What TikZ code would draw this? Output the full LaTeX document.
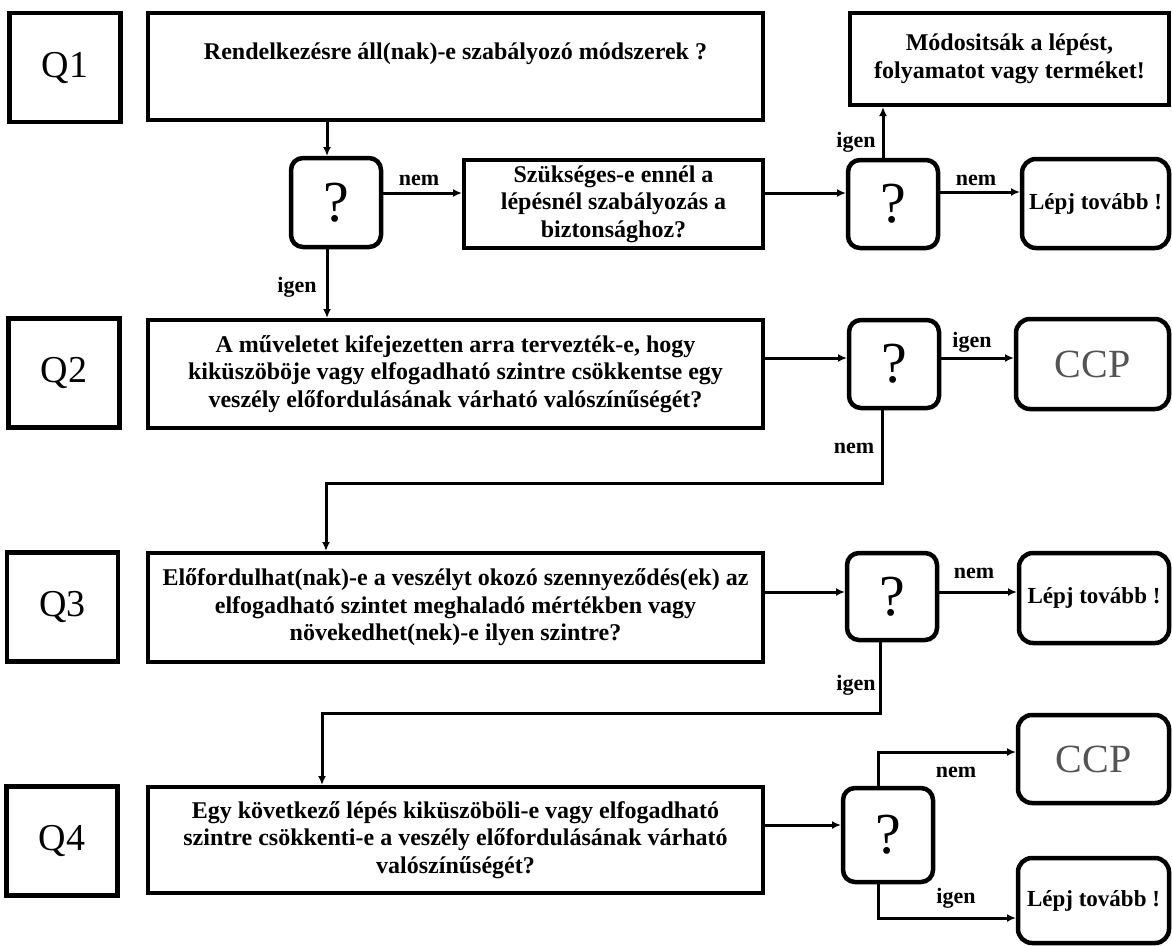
\documentclass[tikz,border=0pt]{standalone}
\usepackage{fontspec}
\setmainfont{Liberation Serif}
\usetikzlibrary{arrows.meta}
\definecolor{ccpgray}{rgb}{0.33,0.33,0.33}
\begin{document}
\begin{tikzpicture}[x=1pt,y=-1pt,
  every node/.style={inner sep=0pt, outer sep=0pt},
  qlab/.style={draw, line width=4.5pt, minimum width=111pt, minimum height=109pt,
    font=\fontsize{38}{42}\selectfont},
  mainbox/.style={draw, line width=4.5pt, minimum width=615pt, align=center,
    font=\bfseries\fontsize{24}{27.5}\selectfont},
  sidebox/.style={draw, line width=4.5pt, align=center,
    font=\bfseries\fontsize{24}{27.5}\selectfont},
  decbox/.style={draw, line width=4.5pt, rounded corners=12pt, minimum width=90pt,
    minimum height=88pt, font=\fontsize{58}{60}\selectfont},
  endbox/.style={draw, line width=4.5pt, rounded corners=14pt, align=center,
    font=\bfseries\fontsize{23}{27}\selectfont},
  ccpbox/.style={draw, line width=4.5pt, rounded corners=14pt,
    font=\fontsize{40}{44}\selectfont, text=ccpgray},
  arr/.style={line width=3pt, -{Latex[length=9pt,width=8pt]}, shorten >=2pt},
  lbl/.style={font=\bfseries\fontsize{22}{24}\selectfont}
]
\fill[white] (0,0) rectangle (1172,945);
\useasboundingbox (0,0) rectangle (1172,945);

% question labels
\node[qlab] (q1l) at (65,67.5) {Q1};
\node[qlab] (q2l) at (64,373) {Q2};
\node[qlab] (q3l) at (62.5,607) {Q3};
\node[qlab] (q4l) at (62,841) {Q4};

% main question boxes
\node[mainbox, minimum height=107pt, text height=17pt, text depth=31pt] (q1m) at (455.5,66.5)
  {Rendelkezésre áll(nak)-e szabályozó módszerek ?};
\node[mainbox, minimum height=108pt] (q2m) at (455.5,374)
  {A műveletet kifejezetten arra tervezték-e, hogy\\kiküszöböje vagy elfogadható szintre csökkentse egy\\veszély előfordulásának várható valószínűségét?};
\node[mainbox, minimum height=109pt] (q3m) at (455.5,607.5)
  {Előfordulhat(nak)-e a veszélyt okozó szennyeződés(ek) az\\elfogadható szintet meghaladó mértékben vagy\\növekedhet(nek)-e ilyen szintre?};
\node[mainbox, minimum height=106pt] (q4m) at (455.5,840)
  {Egy következő lépés kiküszöböli-e vagy elfogadható\\szintre csökkenti-e a veszély előfordulásának várható\\valószínűségét?};

% side boxes
\node[sidebox, minimum width=299pt, minimum height=88pt] (szb) at (613.5,204)
  {Szükséges-e ennél a\\lépésnél szabályozás a\\biztonsághoz?};
\node[sidebox, minimum width=319pt, minimum height=92pt] (mod) at (1009.5,59)
  {Módositsák a lépést,\\folyamatot vagy terméket!};

% decision boxes
\node[decbox, minimum height=89pt] (d1) at (336,202.5) {?};
\node[decbox] (d2) at (893,204) {?};
\node[decbox] (d3) at (894,364) {?};
\node[decbox, minimum height=87pt] (d4) at (892,596.5) {?};
\node[decbox, minimum height=94pt] (d5) at (888,835) {?};

% end boxes
\node[endbox, minimum width=147pt, minimum height=89pt] (l1) at (1095.5,203.5) {Lépj tovább !};
\node[ccpbox, minimum width=153pt, minimum height=90pt] (c1) at (1092.5,364) {CCP};
\node[endbox, minimum width=150pt, minimum height=90pt] (l3) at (1094,598) {Lépj tovább !};
\node[ccpbox, minimum width=151pt, minimum height=88pt] (c2) at (1093.5,759) {CCP};
\node[endbox, minimum width=151pt, minimum height=85pt] (l4) at (1093.5,900.5) {Lépj tovább !};

% helper coordinates
\coordinate (xa) at (327,0);
\coordinate (xb) at (883,0);
\coordinate (ya) at (0,193);
\coordinate (yb) at (0,192);
\coordinate (yc) at (0,358);
\coordinate (ye) at (0,592);
\coordinate (yf) at (0,825);
\coordinate (k1) at (882,483);
\coordinate (k2) at (326,483);
\coordinate (k3) at (880,713);
\coordinate (k4) at (322,713);
\coordinate (k5) at (878,752);
\coordinate (k6) at (878,918);

% connectors
\draw[arr] (q1m.south -| xa) -- (d1.north -| xa);
\draw[arr] (d1.south -| xa) -- (q2m.north -| xa);
\draw[arr] (d1.east |- ya) -- (szb.west |- ya);
\draw[arr] (szb.east |- ya) -- (d2.west |- ya);
\draw[arr] (d2.north -| xb) -- (mod.south -| xb);
\draw[arr] (d2.east |- yb) -- (l1.west |- yb);
\draw[arr] (q2m.east |- yc) -- (d3.west |- yc);
\draw[arr] (d3.east |- yc) -- (c1.west |- yc);
\draw[arr] (d3.south -| k1) -- (k1) -- (k2) -- (q3m.north -| k2);
\draw[arr] (q3m.east |- ye) -- (d4.west |- ye);
\draw[arr] (d4.east |- ye) -- (l3.west |- ye);
\draw[arr] (d4.south -| k3) -- (k3) -- (k4) -- (q4m.north -| k4);
\draw[arr] (q4m.east |- yf) -- (d5.west |- yf);
\draw[arr] (d5.north -| k5) -- (k5) -- (c2.west |- k5);
\draw[arr] (d5.south -| k6) -- (k6) -- (l4.west |- k6);

% connector labels
\node[lbl] (t1) at (419,180) {nem};
\node[lbl] (t2) at (297,287) {igen};
\node[lbl] (t3) at (856,142) {igen};
\node[lbl] (t4) at (976,180) {nem};
\node[lbl] (t5) at (972,342) {igen};
\node[lbl] (t6) at (854,448) {nem};
\node[lbl] (t7) at (974,573) {nem};
\node[lbl] (t8) at (856,685) {igen};
\node[lbl] (t9) at (956,772) {nem};
\node[lbl] (t10) at (956,898) {igen};
\end{tikzpicture}
\end{document}
